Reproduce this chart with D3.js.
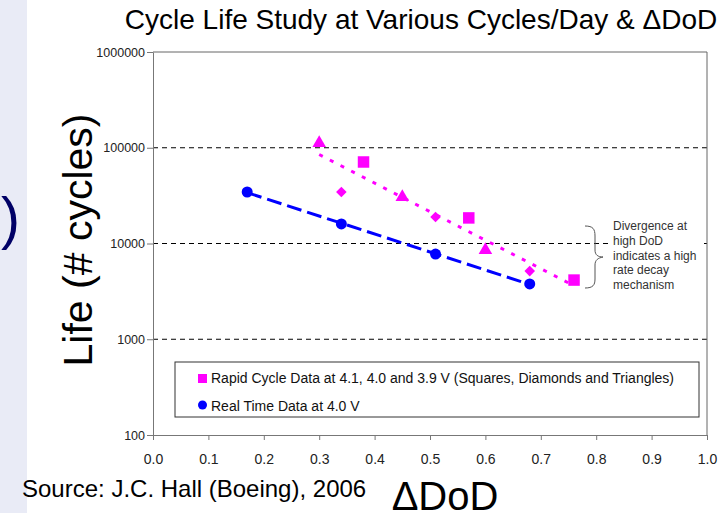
<!DOCTYPE html>
<html>
<head>
<meta charset="utf-8">
<script src="https://cdn.jsdelivr.net/npm/d3@7"></script>
<style>
  body { margin: 0; background: #fff; }
  svg { display: block; font-family: "Liberation Sans", Arial, sans-serif; }
</style>
</head>
<body>
<svg id="chart"></svg>
<script>
// data
const rapidSquares = [[0.38, 71000], [0.57, 18500], [0.76, 4150]];
const rapidDiamonds = [[0.34, 34500], [0.51, 18900], [0.68, 5150]];
const rapidTriangles = [[0.30, 112000], [0.45, 30600], [0.60, 8550]];
const realTime = [[0.17, 34500], [0.34, 16000], [0.51, 7750], [0.68, 3780]];
const yTicks = [100, 1000, 10000, 100000, 1000000];
const xTicks = [0, 0.1, 0.2, 0.3, 0.4, 0.5, 0.6, 0.7, 0.8, 0.9, 1.0];
const noteLines = ["Divergence at", "high DoD", "indicates a high", "rate decay", "mechanism"];

const width = 728, height = 513;
const plotLeft = 153, plotRight = 707, plotTop = 52, plotBottom = 435;

const svg = d3.select("#chart")
    .attr("width", width)
    .attr("height", height)
    .attr("viewBox", [0, 0, width, height]);

// left strip from the previous slide
svg.append("rect").attr("x", 0).attr("y", 0).attr("width", 27).attr("height", height).attr("fill", "#e9ebf6");
svg.append("text").attr("x", 1).attr("y", 238).attr("font-size", 57).attr("fill", "#000066").text(")");

const x = d3.scaleLinear().domain([0, 1]).range([plotLeft, plotRight]);
const y = d3.scaleLog().domain([100, 1000000]).range([plotBottom, plotTop]);

// gridlines
svg.append("g")
  .selectAll("line")
  .data(yTicks.slice(1, -1))
  .join("line")
    .attr("x1", plotLeft).attr("x2", plotRight)
    .attr("y1", d => y(d)).attr("y2", d => y(d))
    .attr("stroke", "#000").attr("stroke-width", 1)
    .attr("stroke-dasharray", "5,4");

// plot border top and right
svg.append("path")
    .attr("d", `M${plotLeft},${y(1e6)}H${plotRight}V${plotBottom}`)
    .attr("fill", "none").attr("stroke", "#666");

// axes
const yAxis = d3.axisLeft(y).tickValues(yTicks).tickFormat(d3.format("d")).tickSize(6).tickSizeOuter(0);
svg.append("g")
    .attr("transform", `translate(${plotLeft},0)`)
    .call(yAxis)
    .call(g => g.select(".domain").attr("stroke", "#777"))
    .call(g => g.selectAll(".tick line").attr("stroke", "#777"))
    .call(g => g.selectAll(".tick text").attr("font-size", 12.5).attr("fill", "#222").attr("x", -8));

const xAxis = d3.axisBottom(x).tickValues(xTicks).tickFormat(d3.format(".1f")).tickSize(5).tickSizeOuter(0);
svg.append("g")
    .attr("transform", `translate(0,${plotBottom})`)
    .call(xAxis)
    .call(g => g.select(".domain").attr("stroke", "#777"))
    .call(g => g.selectAll(".tick line").attr("stroke", "#777"))
    .call(g => g.selectAll(".tick text").attr("font-size", 14).attr("fill", "#222").attr("y", 29).attr("dy", 0));

// exponential trendlines (least squares in log space)
function trend(points) {
  const X = points.map(d => d[0]), L = points.map(d => Math.log10(d[1]));
  const mx = d3.mean(X), ml = d3.mean(L);
  const slope = d3.sum(X, (v, i) => (v - mx) * (L[i] - ml)) / d3.sum(X, v => (v - mx) ** 2);
  const [x0, x1] = d3.extent(X);
  return [x0, x1].map(v => [v, 10 ** (ml + slope * (v - mx))]);
}
const line = d3.line().x(d => x(d[0])).y(d => y(d[1]));
const rapidAll = [...rapidSquares, ...rapidDiamonds, ...rapidTriangles];

svg.append("path")
    .attr("d", line(trend(realTime)))
    .attr("fill", "none").attr("stroke", "#0000ff").attr("stroke-width", 3)
    .attr("stroke-dasharray", "15,6");
svg.append("path")
    .attr("d", line(trend(rapidAll)))
    .attr("fill", "none").attr("stroke", "#ff00ff").attr("stroke-width", 3)
    .attr("stroke-dasharray", "4,8");

// markers
const sym = (type, size) => d3.symbol().type(type).size(size)();
svg.append("g").selectAll("path").data(rapidSquares).join("path")
    .attr("transform", d => `translate(${x(d[0])},${y(d[1])})`)
    .attr("d", sym(d3.symbolSquare, 132)).attr("fill", "#ff00ff");
svg.append("g").selectAll("path").data(rapidDiamonds).join("path")
    .attr("transform", d => `translate(${x(d[0])},${y(d[1])}) rotate(45)`)
    .attr("d", sym(d3.symbolSquare, 56)).attr("fill", "#ff00ff");
svg.append("g").selectAll("path").data(rapidTriangles).join("path")
    .attr("transform", d => `translate(${x(d[0])},${y(d[1])})`)
    .attr("d", sym(d3.symbolTriangle, 80)).attr("fill", "#ff00ff");
svg.append("g").selectAll("circle").data(realTime).join("circle")
    .attr("cx", d => x(d[0])).attr("cy", d => y(d[1])).attr("r", 5.5)
    .attr("fill", "#0000ff");

// legend
const lg = svg.append("g");
lg.append("rect").attr("x", 175).attr("y", 362).attr("width", 524).attr("height", 55)
    .attr("fill", "#fff").attr("stroke", "#333");
lg.append("rect").attr("x", 198).attr("y", 374).attr("width", 9).attr("height", 9).attr("fill", "#ff00ff");
lg.append("circle").attr("cx", 202.5).attr("cy", 405).attr("r", 4.5).attr("fill", "#0000ff");
lg.append("text").attr("x", 211).attr("y", 383).attr("font-size", 14).attr("fill", "#111")
    .text("Rapid Cycle Data at 4.1, 4.0 and 3.9 V (Squares, Diamonds and Triangles)");
lg.append("text").attr("x", 211).attr("y", 410.5).attr("font-size", 14).attr("fill", "#111")
    .text("Real Time Data at 4.0 V");

// annotation brace and note
svg.append("rect").attr("x", 608).attr("y", 218).attr("width", 96).attr("height", 76).attr("fill", "#fff");
svg.append("path")
    .attr("d", "M585,226 C593,226 595,229 595,236 L595,250 C595,255 598,257 603,257 C598,258 595,260 595,265 L595,279 C595,285 593,288 585,288")
    .attr("fill", "none").attr("stroke", "#555").attr("stroke-width", 1);
svg.append("g").selectAll("text").data(noteLines).join("text")
    .attr("x", 613).attr("y", (d, i) => 230 + i * 14.8)
    .attr("font-size", 12).attr("fill", "#333").text(d => d);

// titles
svg.append("text").attr("x", 421).attr("y", 29).attr("text-anchor", "middle")
    .attr("font-size", 28).attr("fill", "#000").text("Cycle Life Study at Various Cycles/Day & ΔDoD");
svg.append("text").attr("transform", "translate(92,240) rotate(-90)").attr("text-anchor", "middle")
    .attr("font-size", 41).attr("fill", "#000").text("Life  (# cycles)");
svg.append("text").attr("x", 22).attr("y", 497)
    .attr("font-size", 24).attr("fill", "#000").text("Source: J.C. Hall (Boeing), 2006");
svg.append("text").attr("x", 445).attr("y", 510).attr("text-anchor", "middle")
    .attr("font-size", 40).attr("fill", "#000").text("ΔDoD");
</script>
</body>
</html>
